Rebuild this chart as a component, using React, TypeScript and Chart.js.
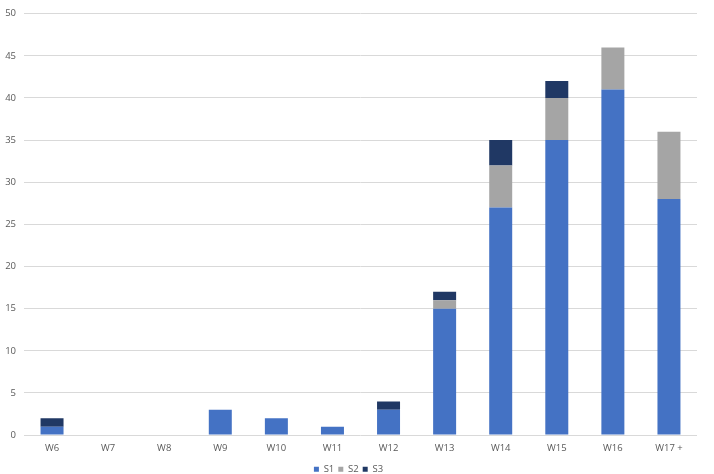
import React, { useEffect, useRef } from "react";
import { Chart, registerables } from "chart.js";

Chart.register(...registerables);

const categories = ["W6", "W7", "W8", "W9", "W10", "W11", "W12", "W13", "W14", "W15", "W16", "W17 +"];
const s1 = [1, 0, 0, 3, 2, 1, 3, 15, 27, 35, 41, 28];
const s2 = [0, 0, 0, 0, 0, 0, 0, 1, 5, 5, 5, 8];
const s3 = [1, 0, 0, 0, 0, 0, 1, 1, 3, 2, 0, 0];
const yTicks = { min: 0, max: 50, step: 5 };

export default function App() {
  const ref = useRef<HTMLCanvasElement>(null);
  useEffect(() => {
    document.body.style.margin = "0";
    const font = { family: "'Open Sans', 'Noto Sans', sans-serif", size: 9.5 };
    const chart = new Chart(ref.current!, {
      type: "bar",
      data: {
        labels: categories,
        datasets: [
          { label: "S1", data: s1, backgroundColor: "#4472C4" },
          { label: "S2", data: s2, backgroundColor: "#A5A5A5" },
          { label: "S3", data: s3, backgroundColor: "#203864" },
        ],
      },
      options: {
        animation: false,
        responsive: false,
        maintainAspectRatio: false,
        datasets: { bar: { barPercentage: 0.41, categoryPercentage: 1 } },
        layout: { padding: { top: 5, right: 17, left: 0, bottom: -10 } },
        plugins: {
          tooltip: { enabled: false },
          legend: {
            position: "bottom",
            labels: { boxWidth: 5, boxHeight: 5, font, color: "#595959", padding: 4 },
          },
        },
        scales: {
          x: {
            stacked: true,
            grid: { display: false, drawTicks: false },
            border: { display: false },
            ticks: { font, color: "#595959", padding: 7 },
          },
          y: {
            stacked: true,
            min: yTicks.min,
            max: yTicks.max,
            ticks: { stepSize: yTicks.step, font, color: "#595959", padding: 8 },
            grid: { color: "#D9D9D9", lineWidth: 1, drawTicks: false },
            border: { display: false },
            afterFit: (s: any) => { s.width = 24; },
          },
        },
      },
    });
    return () => chart.destroy();
  }, []);
  return (
    <div style={{ width: 714, height: 474 }}>
      <canvas ref={ref} width={714} height={474} />
    </div>
  );
}
